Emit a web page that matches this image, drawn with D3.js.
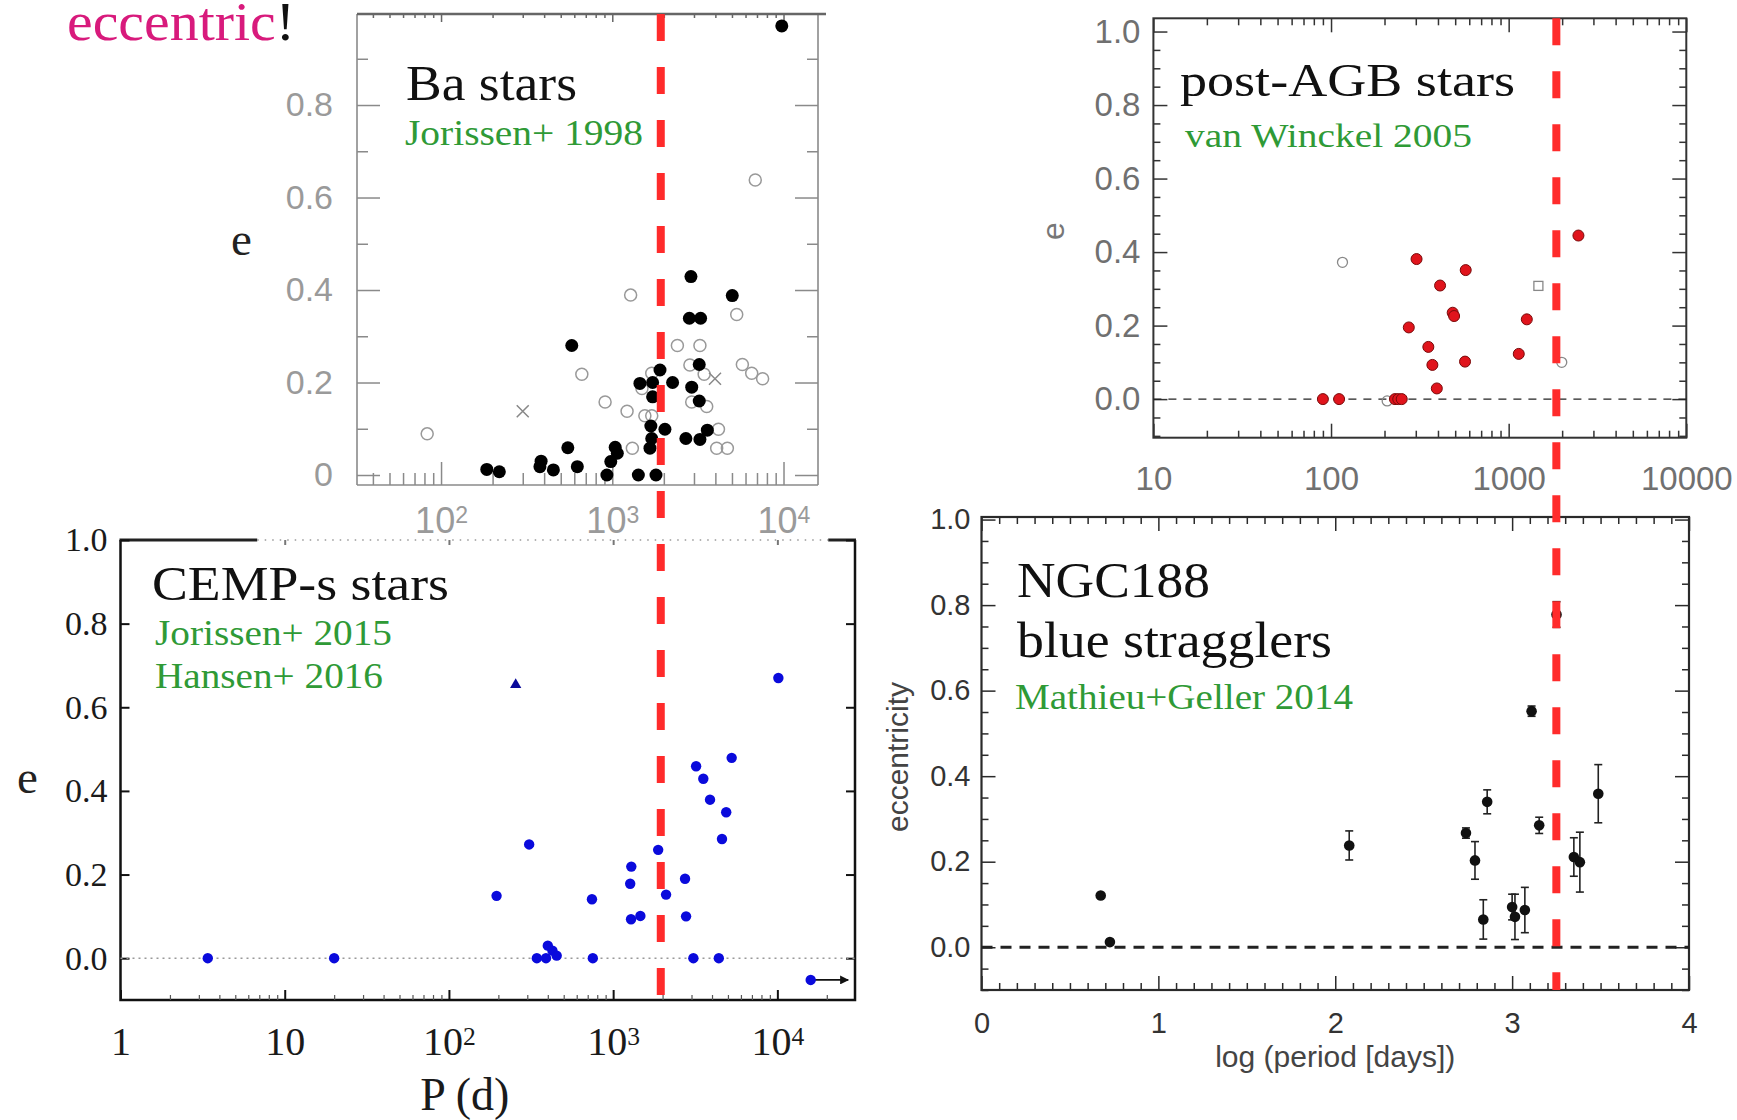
<!DOCTYPE html>
<html>
<head>
<meta charset="utf-8">
<script src="https://cdn.jsdelivr.net/npm/d3@7"></script>
<style>
  html, body { margin: 0; padding: 0; background: #fff; }
  svg { display: block; }
</style>
</head>
<body>
<div id="chart"></div>
<script>
// Ba stars, Jorissen+ 1998: [period (d), e]
const baFilled = [
  [9770, 0.971], [2880, 0.429], [5020, 0.388], [2820, 0.339], [3280, 0.339], [580, 0.28],
  [3220, 0.239], [1900, 0.227], [1450, 0.198], [1720, 0.2], [2250, 0.2], [2910, 0.19],
  [1720, 0.169], [3220, 0.16], [1680, 0.106], [2030, 0.099], [1700, 0.079], [1660, 0.058],
  [2690, 0.079], [3250, 0.077], [3590, 0.097], [550, 0.059], [1040, 0.06], [1070, 0.047],
  [980, 0.029], [930, 0], [1420, 0], [1800, 0], [384, 0.03], [378, 0.018], [453, 0.011],
  [625, 0.018], [185, 0.012], [219, 0.007]
]
const baOpen = [
  [6840, 0.638], [1280, 0.389], [5330, 0.347], [2400, 0.28], [3250, 0.28], [2840, 0.238],
  [5750, 0.239], [6520, 0.22], [7550, 0.208], [664, 0.218], [1700, 0.22], [3440, 0.218],
  [1490, 0.187], [908, 0.158], [2910, 0.158], [3560, 0.148], [1220, 0.138], [1550, 0.128],
  [1700, 0.128], [4170, 0.099], [4070, 0.058], [4700, 0.058], [1310, 0.058], [83, 0.089]
]
const baCross = [[300, 0.138], [3980, 0.208]]

// post-AGB stars, van Winckel 2005: [period (d), e]
const agbFilled = [
  [90, 0], [111, 0], [229, 0], [239, 0], [250, 0], [274, 0.195], [303, 0.381], [353, 0.142],
  [372, 0.093], [394, 0.029], [411, 0.309], [484, 0.235], [493, 0.226], [573, 0.351],
  [568, 0.102], [1140, 0.123], [1265, 0.217], [2470, 0.445]
]
const agbOpen = [[116, 0.372], [207, -0.005], [1990, 0.1]]
const agbSquare = [[1470, 0.308]]

// CEMP-s stars, Jorissen+ 2015 / Hansen+ 2016: [period (d), e]
const cempDots = [
  [3.4, 0], [20, 0], [195, 0.149], [308, 0.272], [343, 0], [390, 0], [400, 0.03], [427, 0.018],
  [453, 0.006], [743, 0.141], [752, 0], [1270, 0.178], [1290, 0.219], [1285, 0.093],
  [1465, 0.101], [1880, 0.259], [2100, 0.152], [2740, 0.19], [2780, 0.1], [3080, 0],
  [3200, 0.459], [3540, 0.429], [3890, 0.379], [4400, 0], [4600, 0.285], [4880, 0.349],
  [5270, 0.479], [10140, 0.67]
]
const cempTriangle = [[255, 0.654]]
const cempLimit = [[15960, -0.052, 27000]]   // [P, e, arrow end P]

// NGC188 blue stragglers, Mathieu+Geller 2014: [log P, e, error]
const ngcPoints = [
  [0.674, 0.121, 0], [0.726, 0.012, 0], [2.079, 0.238, 0.034], [2.739, 0.267, 0.012],
  [2.79, 0.203, 0.044], [2.859, 0.34, 0.028], [2.837, 0.065, 0.046], [3.0, 0.094, 0.03],
  [3.016, 0.071, 0.053], [3.072, 0.087, 0.053], [3.11, 0.552, 0.012], [3.153, 0.285, 0.019],
  [3.251, 0.778, 0.03], [3.349, 0.211, 0.045], [3.383, 0.199, 0.07], [3.487, 0.359, 0.068]
]

// critical period (log P, days) of the red dashed lines
const criticalLogP = { left: 3.29, right: 3.25 }

const baETicks = [0, 0.2, 0.4, 0.6, 0.8]
const baEMinor = [0.1, 0.3, 0.5, 0.7, 0.9]
const eTicks = [0, 0.2, 0.4, 0.6, 0.8, 1.0]
const decadesBa = [100, 1000, 10000]
const decadesAgb = [10, 100, 1000, 10000]
const decadesCemp = [1, 10, 100, 1000, 10000]
const ngcXTicks = [0, 1, 2, 3, 4]

const serif = "'Liberation Serif', 'Times New Roman', serif"
const sans = "'Liberation Sans', Arial, sans-serif"
const green = '#2f9a36'

const svg = d3.select('#chart').append('svg').attr('width', 1737).attr('height', 1120)

// panel boxes
const baBox = { left: 357, right: 818, top: 14, bottom: 485 }
const agbBox = { left: 1153.4, right: 1686.3, top: 18.3, bottom: 437.7 }
const cempBox = { left: 120.5, right: 855, top: 540, bottom: 1000 }
const ngcBox = { left: 981.5, right: 1689, top: 517, bottom: 990 }

const baX = d3.scaleLog().domain([32.3, 15900]).range([baBox.left, baBox.right])
const baY = d3.scaleLinear().domain([-0.0216, 0.9968]).range([baBox.bottom, baBox.top])
const agbX = d3.scaleLog().domain([10, 10000]).range([agbBox.left, agbBox.right])
const agbY = d3.scaleLinear().domain([-0.105, 1.036]).range([agbBox.bottom, agbBox.top])
const cempX = d3.scaleLog().domain([1, 29700]).range([cempBox.left, cempBox.right])
const cempY = d3.scaleLinear().domain([-0.1, 1.0]).range([cempBox.bottom, cempBox.top])
const ngcX = d3.scaleLinear().domain([0, 4]).range([ngcBox.left, ngcBox.right])
const ngcY = d3.scaleLinear().domain([-0.1, 1.006]).range([ngcBox.bottom, ngcBox.top])

function minorLog(scale) {
  return scale.ticks().filter(v => Math.abs(Math.log10(v) - Math.round(Math.log10(v))) > 1e-6)
}

// one axis layer, inward ticks
function axisLayer(g, axisFn, scale, pos, values, size, o = {}) {
  const a = axisFn(scale).tickValues(values).tickSize(-size).tickPadding(o.padding || 0)
    .tickFormat(o.format || (() => ''))
  const vertical = axisFn === d3.axisLeft || axisFn === d3.axisRight
  const sel = g.append('g')
    .attr('transform', vertical ? `translate(${pos},0)` : `translate(0,${pos})`)
    .call(a)
  sel.select('.domain').remove()
  sel.selectAll('line').attr('stroke', o.color || '#333').attr('stroke-width', o.width || 1.5)
  sel.selectAll('text')
    .attr('fill', o.textColor || '#333')
    .attr('font-family', o.font || sans)
    .attr('font-size', o.fontSize || 30)
  return sel
}

function supLabels(sel) {
  sel.selectAll('text').each(function (d) {
    const n = Math.round(Math.log10(d))
    const t = d3.select(this)
    if (n < 2) { t.text(String(d)); return }
    t.text('10')
    t.append('tspan').attr('dy', '-0.42em').attr('font-size', '0.64em').text(n)
  })
}

function label(g, txt, x, y, o) {
  const t = g.append('text').attr('x', x).attr('y', y)
    .attr('font-family', o.font || serif).attr('font-size', o.size)
    .attr('fill', o.color || '#111').text(txt)
  if (o.len) t.attr('textLength', o.len).attr('lengthAdjust', 'spacingAndGlyphs')
  return t
}

// ---------------- Ba stars ----------------
{
  const g = svg.append('g')
  const gray = '#8a8a8a'
  const labelGray = '#9a9a9a'
  g.append('line').attr('x1', baBox.left).attr('x2', baBox.left)
    .attr('y1', baBox.top).attr('y2', baBox.bottom).attr('stroke', gray).attr('stroke-width', 1.6)
  g.append('line').attr('x1', baBox.right).attr('x2', baBox.right)
    .attr('y1', baBox.top).attr('y2', baBox.bottom).attr('stroke', gray).attr('stroke-width', 1.6)
  g.append('line').attr('x1', baBox.left).attr('x2', baBox.right)
    .attr('y1', baBox.bottom).attr('y2', baBox.bottom).attr('stroke', gray).attr('stroke-width', 1.6)
  g.append('line').attr('x1', baBox.left).attr('x2', baBox.right + 8)
    .attr('y1', baBox.top).attr('y2', baBox.top).attr('stroke', '#666').attr('stroke-width', 2.6)

  axisLayer(g, d3.axisLeft, baY, baBox.left, baETicks, 23, {
    color: gray, textColor: labelGray, fontSize: 34, padding: 24,
    format: d => d === 0 ? '0' : d.toFixed(1)
  })
  axisLayer(g, d3.axisLeft, baY, baBox.left, baEMinor, 11, { color: gray })
  axisLayer(g, d3.axisRight, baY, baBox.right, baETicks, 23, { color: gray })
  axisLayer(g, d3.axisRight, baY, baBox.right, baEMinor, 11, { color: gray })
  const bx = axisLayer(g, d3.axisBottom, baX, baBox.bottom, decadesBa, 23, {
    color: gray, textColor: labelGray, fontSize: 36, padding: 22, format: d => String(d)
  })
  supLabels(bx)
  axisLayer(g, d3.axisBottom, baX, baBox.bottom, minorLog(baX), 12, { color: gray })
  axisLayer(g, d3.axisTop, baX, baBox.top, minorLog(baX), 4, { color: '#666' })
  axisLayer(g, d3.axisTop, baX, baBox.top, decadesBa, 8, { color: '#666' })

  g.append('g').selectAll('circle').data(baOpen).join('circle')
    .attr('cx', d => baX(d[0])).attr('cy', d => baY(d[1])).attr('r', 6)
    .attr('fill', 'none').attr('stroke', '#999').attr('stroke-width', 1.5)
  g.append('g').selectAll('path').data(baCross).join('path')
    .attr('d', d => {
      const x = baX(d[0]), y = baY(d[1]), s = 6
      return `M${x - s},${y - s}L${x + s},${y + s}M${x - s},${y + s}L${x + s},${y - s}`
    })
    .attr('stroke', '#888').attr('stroke-width', 1.5)
  g.append('g').selectAll('circle').data(baFilled).join('circle')
    .attr('cx', d => baX(d[0])).attr('cy', d => baY(d[1])).attr('r', 6.5).attr('fill', '#000')

  label(g, 'Ba stars', 406, 100, { size: 50, len: 171 })
  label(g, 'Jorissen+ 1998', 405, 145, { size: 35, color: green, len: 238 })
  label(g, 'e', 231, 255, { size: 47, color: '#222' })
}

// ---------------- post-AGB stars ----------------
{
  const g = svg.append('g')
  const c = '#333'
  g.append('rect').attr('x', agbBox.left).attr('y', agbBox.top)
    .attr('width', agbBox.right - agbBox.left).attr('height', agbBox.bottom - agbBox.top)
    .attr('fill', 'none').attr('stroke', c).attr('stroke-width', 2)
  const eMinor = d3.range(-0.1, 1.03, 0.05).filter(v => Math.abs(v * 5 - Math.round(v * 5)) > 1e-6)
  axisLayer(g, d3.axisLeft, agbY, agbBox.left, eTicks, 14, {
    color: c, textColor: '#707070', fontSize: 33, padding: 13, format: d3.format('.1f')
  })
  axisLayer(g, d3.axisLeft, agbY, agbBox.left, eMinor, 7, { color: c })
  axisLayer(g, d3.axisRight, agbY, agbBox.right, eTicks, 14, { color: c })
  axisLayer(g, d3.axisRight, agbY, agbBox.right, eMinor, 7, { color: c })
  axisLayer(g, d3.axisBottom, agbX, agbBox.bottom, decadesAgb, 14, {
    color: c, textColor: '#707070', fontSize: 33, padding: 29, format: d => String(d)
  })
  axisLayer(g, d3.axisBottom, agbX, agbBox.bottom, minorLog(agbX), 7, { color: c })
  axisLayer(g, d3.axisTop, agbX, agbBox.top, decadesAgb, 14, { color: c })
  axisLayer(g, d3.axisTop, agbX, agbBox.top, minorLog(agbX), 7, { color: c })

  g.append('line').attr('x1', agbBox.left).attr('x2', agbBox.right)
    .attr('y1', agbY(0)).attr('y2', agbY(0))
    .attr('stroke', '#222').attr('stroke-width', 1.3).attr('stroke-dasharray', '8 7')

  g.append('g').selectAll('circle').data(agbOpen).join('circle')
    .attr('cx', d => agbX(d[0])).attr('cy', d => agbY(d[1])).attr('r', 5)
    .attr('fill', 'none').attr('stroke', '#888').attr('stroke-width', 1.3)
  g.append('g').selectAll('rect').data(agbSquare).join('rect')
    .attr('x', d => agbX(d[0]) - 4.5).attr('y', d => agbY(d[1]) - 4.5)
    .attr('width', 9).attr('height', 9)
    .attr('fill', 'none').attr('stroke', '#888').attr('stroke-width', 1.3)
  g.append('g').selectAll('circle').data(agbFilled).join('circle')
    .attr('cx', d => agbX(d[0])).attr('cy', d => agbY(d[1])).attr('r', 5.5)
    .attr('fill', '#e0141c').attr('stroke', '#7a0a0a').attr('stroke-width', 1)

  label(g, 'post-AGB stars', 1180, 96, { size: 46, len: 335 })
  label(g, 'van Winckel 2005', 1185, 147, { size: 33, color: green, len: 287 })
  g.append('text').attr('transform', 'translate(1064,231) rotate(-90)')
    .attr('text-anchor', 'middle').attr('font-family', sans).attr('font-size', 32)
    .attr('fill', '#777').text('e')
}

// ---------------- CEMP-s stars ----------------
{
  const g = svg.append('g')
  const c = '#111'
  const topSplit = [6.8, 20400]
  g.append('path')
    .attr('d', `M${cempBox.left},${cempBox.top}V${cempBox.bottom}H${cempBox.right}V${cempBox.top}`)
    .attr('fill', 'none').attr('stroke', c).attr('stroke-width', 2.5)
  g.append('line').attr('x1', cempBox.left - 1).attr('x2', cempX(topSplit[0]))
    .attr('y1', cempBox.top).attr('y2', cempBox.top).attr('stroke', '#222').attr('stroke-width', 3)
  g.append('line').attr('x1', cempX(topSplit[1])).attr('x2', cempBox.right + 1)
    .attr('y1', cempBox.top).attr('y2', cempBox.top).attr('stroke', '#222').attr('stroke-width', 3)
  g.append('line').attr('x1', cempX(topSplit[0])).attr('x2', cempX(topSplit[1]))
    .attr('y1', cempBox.top).attr('y2', cempBox.top)
    .attr('stroke', '#999').attr('stroke-width', 1.5).attr('stroke-dasharray', '1.5 6')

  axisLayer(g, d3.axisLeft, cempY, cempBox.left, eTicks, 9, {
    color: c, width: 2, textColor: '#1a1a1a', font: serif, fontSize: 34, padding: 13,
    format: d3.format('.1f')
  })
  axisLayer(g, d3.axisRight, cempY, cempBox.right, eTicks, 9, { color: c, width: 2 })
  const cx = axisLayer(g, d3.axisBottom, cempX, cempBox.bottom, decadesCemp, 10, {
    color: c, width: 2, textColor: '#1a1a1a', font: serif, fontSize: 40, padding: 27,
    format: d => String(d)
  })
  supLabels(cx)
  axisLayer(g, d3.axisBottom, cempX, cempBox.bottom, minorLog(cempX), 5, { color: '#555', width: 1.2 })
  axisLayer(g, d3.axisTop, cempX, cempBox.top, decadesCemp.slice(1), 5, { color: '#777', width: 2 })

  g.append('line').attr('x1', cempBox.left).attr('x2', cempBox.right)
    .attr('y1', cempY(0)).attr('y2', cempY(0))
    .attr('stroke', '#999').attr('stroke-width', 1.4).attr('stroke-dasharray', '2 4')

  g.append('defs').append('marker').attr('id', 'arrow')
    .attr('viewBox', '0 0 10 10').attr('refX', 9).attr('refY', 5)
    .attr('markerWidth', 9).attr('markerHeight', 9).attr('markerUnits', 'userSpaceOnUse')
    .attr('orient', 'auto')
    .append('path').attr('d', 'M0,0L10,5L0,10z').attr('fill', '#111')
  g.append('g').selectAll('line').data(cempLimit).join('line')
    .attr('x1', d => cempX(d[0])).attr('x2', d => cempX(d[2]))
    .attr('y1', d => cempY(d[1])).attr('y2', d => cempY(d[1]))
    .attr('stroke', '#111').attr('stroke-width', 1.8).attr('marker-end', 'url(#arrow)')
  g.append('g').selectAll('circle').data(cempDots.concat(cempLimit)).join('circle')
    .attr('cx', d => cempX(d[0])).attr('cy', d => cempY(d[1])).attr('r', 5.2)
    .attr('fill', '#0a0adc')
  g.append('g').selectAll('path').data(cempTriangle).join('path')
    .attr('transform', d => `translate(${cempX(d[0])},${cempY(d[1])})`)
    .attr('d', d3.symbol(d3.symbolTriangle, 55))
    .attr('fill', '#0a0a9a')

  label(g, 'CEMP-s stars', 152, 600, { size: 48, len: 297 })
  label(g, 'Jorissen+ 2015', 155, 645, { size: 35, color: green, len: 237 })
  label(g, 'Hansen+ 2016', 155, 688, { size: 35, color: green, len: 228 })
  label(g, 'e', 17, 793, { size: 47, color: '#222' })
  g.append('text').attr('x', cempX(125)).attr('y', 1110).attr('text-anchor', 'middle')
    .attr('font-family', serif).attr('font-size', 46).attr('fill', '#1a1a1a').text('P (d)')
}

// ---------------- NGC188 blue stragglers ----------------
{
  const g = svg.append('g')
  const c = '#2a2a2a'
  g.append('rect').attr('x', ngcBox.left).attr('y', ngcBox.top)
    .attr('width', ngcBox.right - ngcBox.left).attr('height', ngcBox.bottom - ngcBox.top)
    .attr('fill', 'none').attr('stroke', c).attr('stroke-width', 2.2)
  const eMinor = d3.range(-0.1, 1.001, 0.05).filter(v => Math.abs(v * 5 - Math.round(v * 5)) > 1e-6)
  const xMinor = d3.range(0.1, 4, 0.1).filter(v => Math.abs(v - Math.round(v)) > 1e-6)
  axisLayer(g, d3.axisLeft, ngcY, ngcBox.left, eTicks, 14, {
    color: c, textColor: '#333', fontSize: 29, padding: 11, format: d3.format('.1f')
  })
  axisLayer(g, d3.axisLeft, ngcY, ngcBox.left, eMinor, 7, { color: c })
  axisLayer(g, d3.axisRight, ngcY, ngcBox.right, eTicks, 14, { color: c })
  axisLayer(g, d3.axisRight, ngcY, ngcBox.right, eMinor, 7, { color: c })
  axisLayer(g, d3.axisBottom, ngcX, ngcBox.bottom, ngcXTicks, 14, {
    color: c, textColor: '#333', fontSize: 29, padding: 22, format: d3.format('d')
  })
  axisLayer(g, d3.axisBottom, ngcX, ngcBox.bottom, xMinor, 7, { color: c })
  axisLayer(g, d3.axisTop, ngcX, ngcBox.top, ngcXTicks, 14, { color: c })
  axisLayer(g, d3.axisTop, ngcX, ngcBox.top, xMinor, 7, { color: c })

  g.append('line').attr('x1', ngcBox.left).attr('x2', ngcBox.right)
    .attr('y1', ngcY(0)).attr('y2', ngcY(0))
    .attr('stroke', '#222').attr('stroke-width', 3).attr('stroke-dasharray', '11 8')

  const eb = g.append('g').attr('stroke', '#222').attr('stroke-width', 1.6)
  ngcPoints.filter(d => d[2] > 0).forEach(d => {
    const x = ngcX(d[0]), y1 = ngcY(d[1] - d[2]), y2 = ngcY(d[1] + d[2])
    eb.append('line').attr('x1', x).attr('x2', x).attr('y1', y1).attr('y2', y2)
    eb.append('line').attr('x1', x - 4).attr('x2', x + 4).attr('y1', y1).attr('y2', y1)
    eb.append('line').attr('x1', x - 4).attr('x2', x + 4).attr('y1', y2).attr('y2', y2)
  })
  g.append('g').selectAll('circle').data(ngcPoints).join('circle')
    .attr('cx', d => ngcX(d[0])).attr('cy', d => ngcY(d[1])).attr('r', 5.3).attr('fill', '#111')

  label(g, 'NGC188', 1017, 597, { size: 50, len: 193 })
  label(g, 'blue stragglers', 1017, 657, { size: 50, len: 315 })
  label(g, 'Mathieu+Geller 2014', 1015, 709, { size: 35, color: green, len: 338 })
  g.append('text').attr('transform', 'translate(908,757) rotate(-90)')
    .attr('text-anchor', 'middle').attr('font-family', sans).attr('font-size', 30)
    .attr('fill', '#444').text('eccentricity')
  g.append('text').attr('x', ngcX(2.0)).attr('y', 1067).attr('text-anchor', 'middle')
    .attr('font-family', sans).attr('font-size', 30).attr('fill', '#444').text('log (period [days])')
}

// ---------------- headline ----------------
{
  const t = label(svg, 'eccentric', 67, 40, { size: 54, color: '#d81a7c', len: 228 })
  t.append('tspan').attr('fill', '#111').text('!')
}

// ---------------- red dashed critical-period lines ----------------
{
  const g = svg.append('g').attr('stroke', '#ff2b2b').attr('stroke-width', 8)
    .attr('stroke-dasharray', '27 26')
  const xl = cempX(Math.pow(10, criticalLogP.left))
  g.append('line').attr('x1', xl).attr('x2', xl).attr('y1', baBox.top).attr('y2', cempBox.bottom)
  const xr = ngcX(criticalLogP.right)
  g.append('line').attr('x1', xr).attr('x2', xr).attr('y1', agbBox.top).attr('y2', ngcBox.bottom)
}
</script>
</body>
</html>
